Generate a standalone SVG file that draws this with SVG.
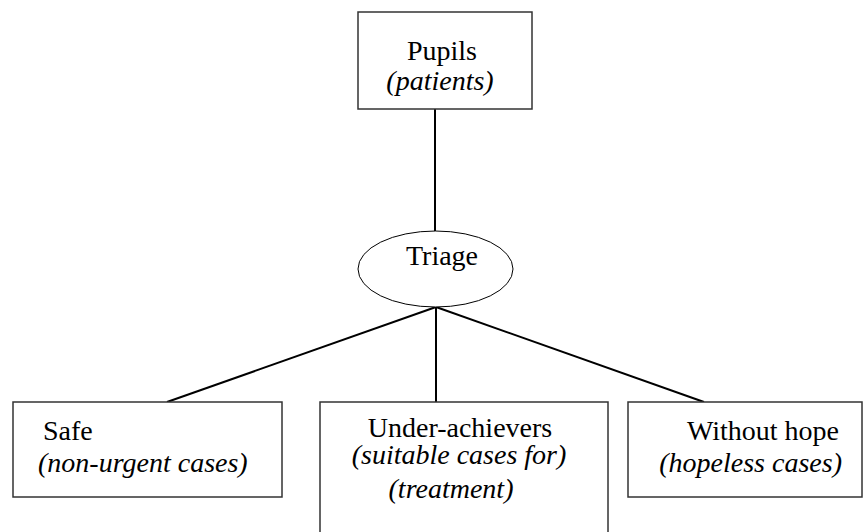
<svg xmlns="http://www.w3.org/2000/svg" width="867" height="532" viewBox="0 0 867 532">
<style>
.box{fill:#fff;stroke:#333;stroke-width:1.5}
.conn{stroke:#000;stroke-width:2;fill:none}
text{font-family:"Liberation Serif","Times New Roman",serif;font-size:28px;fill:#000}
.it{font-style:italic}
</style>
<rect width="867" height="532" fill="#fff"/>
<g id="connectors">
<line class="conn" x1="435" y1="109" x2="435" y2="231"/>
<line class="conn" x1="436" y1="307" x2="167" y2="402"/>
<line class="conn" x1="436" y1="307" x2="436" y2="402"/>
<line class="conn" x1="436" y1="307" x2="704" y2="402"/>
</g>
<g id="pupils">
<rect class="box" x="358" y="12" width="174" height="97"/>
<text x="442" y="60" text-anchor="middle">Pupils</text>
<text x="440" y="90" text-anchor="middle" class="it">(patients)</text>
</g>
<g id="triage">
<ellipse cx="435.5" cy="269" rx="77.5" ry="38" fill="#fff" stroke="#000" stroke-width="1"/>
<text x="442" y="265" text-anchor="middle">Triage</text>
</g>
<g id="safe">
<rect class="box" x="13" y="402" width="269" height="95"/>
<text x="43" y="440">Safe</text>
<text x="38" y="472" class="it">(non-urgent cases)</text>
</g>
<g id="under">
<rect class="box" x="320" y="402" width="288" height="135"/>
<text x="460" y="437" text-anchor="middle">Under-achievers</text>
<text x="459" y="464" text-anchor="middle" class="it">(suitable cases for)</text>
<text x="451" y="498" text-anchor="middle" class="it">(treatment)</text>
</g>
<g id="without">
<rect class="box" x="628" y="402" width="234" height="95"/>
<text x="839" y="440" text-anchor="end">Without hope</text>
<text x="842" y="472" text-anchor="end" class="it">(hopeless cases)</text>
</g>
</svg>
